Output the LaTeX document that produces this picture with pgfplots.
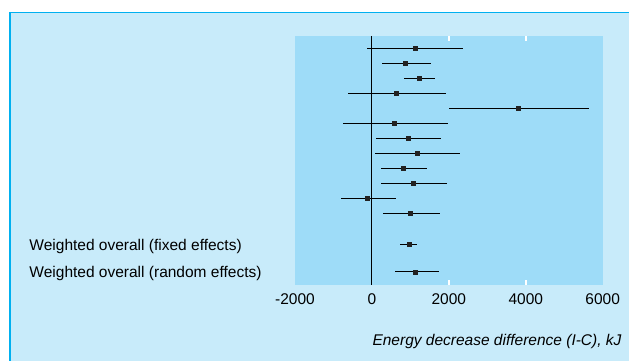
\documentclass[border=0pt]{standalone}
\usepackage{pgfplots}
\pgfplotsset{compat=1.18}
\usepackage{pgfplotstable}
\usepackage{fontspec}
\setmainfont{Liberation Sans}
\definecolor{outerbg}{RGB}{200,235,250}
\definecolor{innerbg}{RGB}{158,220,248}
\definecolor{frameline}{RGB}{0,176,240}
\definecolor{markc}{RGB}{34,34,34}
\newcommand\f{\fontsize{15.5pt}{18pt}\selectfont}
\pgfplotstableread{
x y em ep
1136 1 1256 1240
876 2 606 668
1240 3 416 408
642 4 1274 1292
3814 5 1802 1828
590 6 1334 1378
954 7 850 840
1188 8 1100 1110
824 9 580 616
1084 10 840 858
-112 11 684 728
1006 12 720 754
980 14.06 242 200
1136 15.87 538 616
}\forest
\begin{document}
\begin{tikzpicture}[x=1pt,y=1pt]
\fill[outerbg] (10,0) rectangle (629,348.5);
\draw[frameline, line width=1.5pt] (10,0) -- (10,348.5) -- (629,348.5);
\begin{axis}[
  at={(295pt,76.3pt)}, anchor=south west,
  scale only axis, width=307.7pt, height=248.7pt,
  xmin=-2000, xmax=6000, ymin=0.2, ymax=16.72, y dir=reverse,
  axis background/.style={fill=innerbg},
  axis line style={draw=none},
  ytick=\empty,
  xtick={-2000,0,2000,4000,6000},
  xticklabels={-2000,0,2000,4000,6000},
  major tick style={draw=none},
  xticklabel style={font=\f, anchor=base, inner sep=0pt, yshift=-19.3pt},
  extra x ticks={2000,4000}, extra x tick labels={},
  extra x tick style={major tick style={draw=white, line width=1.5pt}, major tick length=5pt, tick align=inside},
  xlabel={\itshape Energy decrease difference (I-C), kJ},
  xlabel style={font=\f, at={(rel axis cs:1,0)}, anchor=base east, inner sep=0pt, xshift=19pt, yshift=-60.3pt},
  clip=false,
]
\addplot[black, line width=1pt] coordinates {(0,0.2) (0,16.72)};
\addplot[only marks, mark=square*, mark size=2pt, mark options={fill=markc, draw=markc},
  error bars/.cd, x dir=both, x explicit,
  error bar style={black, line width=1pt}, error mark=none]
  table[x=x, y=y, x error minus=em, x error plus=ep] {\forest};
\node[font=\f, anchor=base west, inner sep=0pt, xshift=-265.7pt, yshift=-6pt] at (axis cs:-2000,14.06) {Weighted overall (fixed effects)};
\node[font=\f, anchor=base west, inner sep=0pt, xshift=-265.7pt, yshift=-5.3pt] at (axis cs:-2000,15.87) {Weighted overall (random effects)};
\end{axis}
\pgfresetboundingbox
\useasboundingbox (0,0) rectangle (629,361);
\end{tikzpicture}
\end{document}
